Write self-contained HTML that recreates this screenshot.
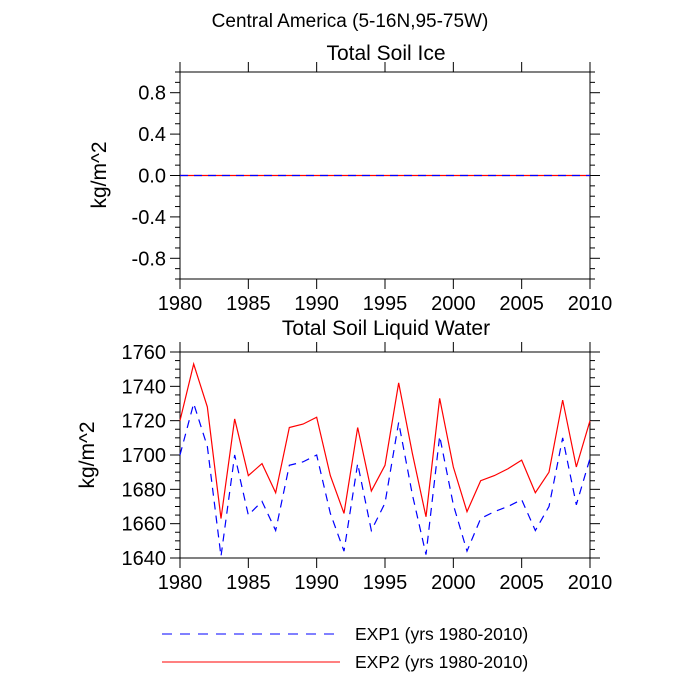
<!DOCTYPE html>
<html><head><meta charset="utf-8"><style>body{margin:0;background:#fff}svg{display:block;font-family:"Liberation Sans",sans-serif}</style></head>
<body>
<svg id="c" width="700" height="700">
<text x="350" y="27" font-size="19" text-anchor="middle">Central America (5-16N,95-75W)</text>
<text x="386" y="60" font-size="21" text-anchor="middle">Total Soil Ice</text>
<text x="386" y="335" font-size="21" text-anchor="middle">Total Soil Liquid Water</text>
<text transform="translate(106,175) rotate(-90)" font-size="21" text-anchor="middle">kg/m^2</text>
<text transform="translate(94,455) rotate(-90)" font-size="21" text-anchor="middle">kg/m^2</text>
<g id="g"></g>
<line x1="162" y1="634" x2="340" y2="634" stroke="#0000ff" stroke-dasharray="10,8"/>
<text x="355" y="640" font-size="17.5">EXP1 (yrs 1980-2010)</text>
<line x1="162" y1="662" x2="340" y2="662" stroke="#ff0000"/>
<text x="355" y="668" font-size="17.5">EXP2 (yrs 1980-2010)</text>
</svg>
<script>
const years=[1980,1981,1982,1983,1984,1985,1986,1987,1988,1989,1990,1991,1992,1993,1994,1995,1996,1997,1998,1999,2000,2001,2002,2003,2004,2005,2006,2007,2008,2009,2010];
const exp2=[1720,1753,1728,1663,1721,1688,1695,1678,1716,1718,1722,1688,1666,1716,1679,1694,1742,1701,1664,1733,1693,1667,1685,1688,1692,1697,1678,1690,1732,1693,1720];
const exp1=[1700,1730,1705,1641,1700,1665,1673,1656,1694,1696,1700,1666,1644,1695,1656,1672,1719,1677,1642,1711,1671,1644,1663,1667,1670,1674,1656,1670,1710,1671,1698];
const iceExp1=years.map(()=>0);
const iceExp2=years.map(()=>0);
const xTicks=[1980,1985,1990,1995,2000,2005,2010];
const topYTicks=[-0.8,-0.4,0.0,0.4,0.8];
const botYTicks=[1640,1660,1680,1700,1720,1740,1760];
const NS='http://www.w3.org/2000/svg',g=document.getElementById('g');
function mk(t,a){const e=document.createElementNS(NS,t);for(const k in a)e.setAttribute(k,a[k]);g.appendChild(e);return e;}
const L=180,R=590;
const x=v=>L+(v-1980)/30*(R-L);
function panel(top,bot,ymin,ymax,yt,minorStep,fmt,name){
  const y=v=>bot-(v-ymin)/(ymax-ymin)*(bot-top);
  const f=mk('rect',{x:L,y:top,width:R-L,height:bot-top,fill:'none',stroke:'#000','stroke-width':1});
  
  
  xTicks.forEach(v=>{
    mk('line',{x1:x(v),x2:x(v),y1:top,y2:top-10,stroke:'#000'});
    mk('line',{x1:x(v),x2:x(v),y1:bot,y2:bot+10,stroke:'#000'});
    const t=mk('text',{x:x(v),y:bot+31,'font-size':20,'text-anchor':'middle'});t.textContent=v;
    
    
  });
  const n=Math.round((ymax-ymin)/minorStep);
  for(let i=0;i<=n;i++){const v=ymin+i*minorStep;const maj=yt.some(t=>Math.abs(t-v)<1e-6);const len=maj?10:5;
    mk('line',{x1:L,x2:L-len,y1:y(v),y2:y(v),stroke:'#000'});
    mk('line',{x1:R,x2:R+len,y1:y(v),y2:y(v),stroke:'#000'});}
  yt.forEach(v=>{const t=mk('text',{x:L-14,y:y(v)+7,'font-size':20,'text-anchor':'end'});t.textContent=fmt(v);
    
    });
  return y;
}
const yT=panel(72,279,-1,1,topYTicks,0.1,v=>v.toFixed(1),'top');
const yB=panel(352,558,1640,1760,botYTicks,5,v=>v,'bottom');
function line(data,yf,col,dash,name){
  const p=mk('polyline',{points:data.map((v,i)=>x(years[i])+','+yf(v)).join(' '),fill:'none',stroke:col,'stroke-width':1.2});
  if(dash)p.setAttribute('stroke-dasharray',dash);
  
  
}
line(iceExp2,yT,'#ff0000',null,'ice-exp2-line');
line(iceExp1,yT,'#0000ff','8,6','ice-exp1-line');
line(exp2,yB,'#ff0000',null,'liquid-exp2-line');
line(exp1,yB,'#0000ff','8,6','liquid-exp1-line');
</script>
</body></html>
